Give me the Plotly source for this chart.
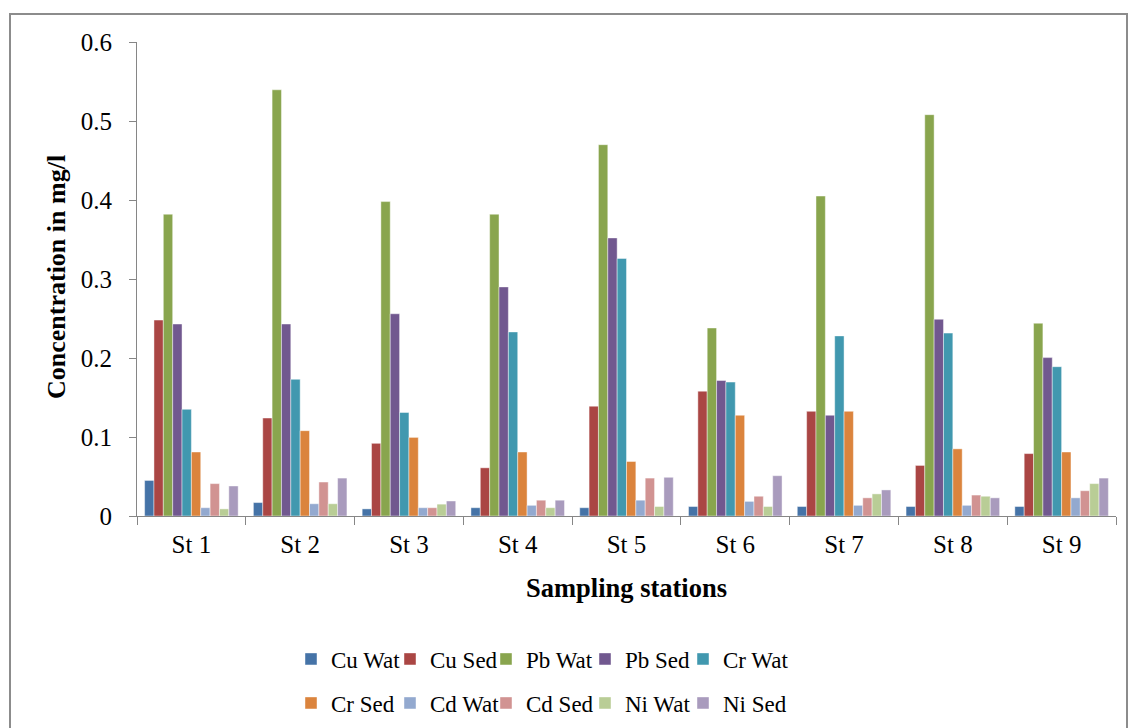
import plotly.graph_objects as go

stations = ["St 1", "St 2", "St 3", "St 4", "St 5", "St 6", "St 7", "St 8", "St 9"]
series_names = ["Cu Wat", "Cu Sed", "Pb Wat", "Pb Sed", "Cr Wat",
                "Cr Sed", "Cd Wat", "Cd Sed", "Ni Wat", "Ni Sed"]

cu_wat = [0.045, 0.017, 0.009, 0.0105, 0.0105, 0.012, 0.012, 0.012, 0.012]
cu_sed = [0.248, 0.124, 0.092, 0.061, 0.139, 0.158, 0.1325, 0.064, 0.079]
pb_wat = [0.382, 0.5395, 0.398, 0.382, 0.470, 0.238, 0.405, 0.508, 0.244]
pb_sed = [0.243, 0.243, 0.256, 0.290, 0.352, 0.1715, 0.1275, 0.249, 0.2005]
cr_wat = [0.135, 0.173, 0.131, 0.233, 0.326, 0.1695, 0.228, 0.2315, 0.189]
cr_sed = [0.081, 0.108, 0.0995, 0.081, 0.069, 0.1275, 0.1325, 0.085, 0.081]
cd_wat = [0.0105, 0.0155, 0.0105, 0.0135, 0.020, 0.0185, 0.0135, 0.0135, 0.023]
cd_sed = [0.041, 0.043, 0.0105, 0.020, 0.048, 0.025, 0.023, 0.0265, 0.032]
ni_wat = [0.009, 0.0155, 0.015, 0.0105, 0.012, 0.012, 0.028, 0.025, 0.041]
ni_sed = [0.038, 0.048, 0.019, 0.020, 0.049, 0.051, 0.033, 0.023, 0.048]

series_values = [cu_wat, cu_sed, pb_wat, pb_sed, cr_wat,
                 cr_sed, cd_wat, cd_sed, ni_wat, ni_sed]
colors = ["#4573A7", "#AA4644", "#89A54E", "#71588F", "#4198AF",
          "#DB843D", "#93A9CF", "#D19392", "#B9CD96", "#A99BBD"]

FONT = "Liberation Serif"

# legend layout: two rows of five entries (entry x in px, row centre y in px)
legend_text_x = [331, 430, 526, 625, 723]
legend_row_y = [659, 703]

# plot area: x 137..1116, y 42..516 in a 1129x728 page
L, R, T, B = 137, 1116, 42, 516
W, H = 1129, 728

def px_x(px):
    return (px - L) / (R - L)

def px_y(py):
    return (B - py) / (B - T)

fig = go.Figure()
legend_layouts = {}
for i, (name, vals, col) in enumerate(zip(series_names, series_values, colors)):
    key = "legend" if i == 0 else f"legend{i + 1}"
    fig.add_trace(go.Bar(
        x=stations, y=vals, name=name,
        marker=dict(color=col, line=dict(color="rgba(255,255,255,0.55)", width=0.8)),
        legend=key,
    ))
    legend_layouts[key] = dict(
        orientation="h", xref="container", yref="container",
        xanchor="left", yanchor="middle",
        x=(legend_text_x[i % 5] - 40) / W,
        y=1 - legend_row_y[i // 5] / H,
        font=dict(family=FONT, size=23, color="black"),
        itemwidth=30, bgcolor="rgba(0,0,0,0)",
        itemclick=False, itemdoubleclick=False,
    )

fig.update_layout(
    width=W, height=H,
    margin=dict(l=L, r=W - R, t=T, b=H - B, autoexpand=False),
    paper_bgcolor="white", plot_bgcolor="white",
    barmode="group", bargap=0.14, bargroupgap=0,
    font=dict(family=FONT, color="black"),
    showlegend=True,
    xaxis=dict(
        showline=True, linecolor="#868686", linewidth=1,
        ticks="outside", tickson="boundaries", ticklen=8, tickcolor="#868686",
        tickfont=dict(family=FONT, size=25, color="black"),
        ticklabelstandoff=6,
        showgrid=False, zeroline=False, automargin=False,
    ),
    yaxis=dict(
        range=[0, 0.6], dtick=0.1, tick0=0,
        showline=True, linecolor="#868686", linewidth=1,
        ticks="outside", ticklen=7, tickcolor="#868686",
        tickfont=dict(family=FONT, size=25, color="black"),
        ticklabelstandoff=12,
        showgrid=False, zeroline=False, automargin=False,
    ),
    annotations=[
        dict(text="<b>Concentration in mg/l</b>", textangle=-90,
             xref="paper", yref="paper", x=px_x(56), y=px_y(277),
             xanchor="center", yanchor="middle", showarrow=False,
             font=dict(family=FONT, size=26, color="black")),
        dict(text="<b>Sampling stations</b>",
             xref="paper", yref="paper", x=px_x(626), y=px_y(588),
             xanchor="center", yanchor="middle", showarrow=False,
             font=dict(family=FONT, size=26.5, color="black")),
    ],
    shapes=[
        dict(type="rect", xref="paper", yref="paper",
             x0=px_x(10), x1=px_x(1127), y0=px_y(745), y1=px_y(14),
             line=dict(color="#8C8C8C", width=2), fillcolor="rgba(0,0,0,0)",
             layer="below"),
    ],
    **legend_layouts,
)

fig.write_html("out.html")
